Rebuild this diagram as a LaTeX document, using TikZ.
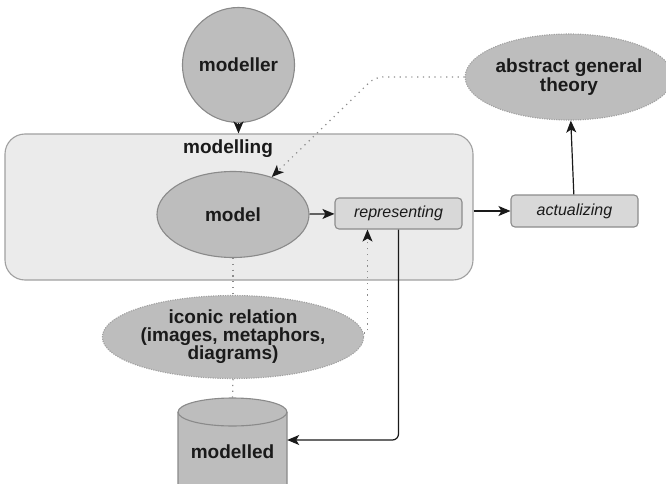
\documentclass[tikz,border=0pt]{standalone}
\usepackage{fontspec}
\setmainfont{Liberation Sans}
\usetikzlibrary{shapes.geometric,arrows.meta}
\definecolor{ellfill}{HTML}{BDBDBD}
\definecolor{ellline}{HTML}{8A8A8A}
\definecolor{boxfill}{HTML}{EBEBEB}
\definecolor{boxline}{HTML}{A0A0A0}
\definecolor{procfill}{HTML}{D8D8D8}
\definecolor{procline}{HTML}{8C8C8C}
\definecolor{ink}{HTML}{1A1A1A}
\definecolor{dotline}{HTML}{8C8C8C}
\tikzset{
  ell/.style={ellipse, fill=ellfill, draw=ellline, line width=1.1pt, inner sep=0pt,
    font=\bfseries\fontsize{19}{19}\selectfont, text=ink, align=center},
  dell/.style={ell, draw=ellline!80, dash pattern=on 1.2pt off 1.2pt},
  outer/.style={rectangle, rounded corners=20pt, fill=boxfill, draw=boxline, line width=1.1pt},
  proc/.style={rectangle, rounded corners=4pt, fill=procfill, draw=procline, line width=1.1pt,
    font=\itshape\fontsize{16}{16}\selectfont, text=ink, inner sep=0pt},
  cyl/.style={fill=ellfill, draw=ellline, line width=1.1pt},
  arr/.style={draw=ink, line width=1.2pt, -{Stealth[length=12pt,width=10pt,inset=3pt]}},
  dotarr/.style={draw=dotline, line width=1.2pt, dash pattern=on 1.2pt off 4.6pt,
    -{Stealth[length=12pt,width=10pt,inset=3pt,fill=ink,color=ink]}},
  dotlink/.style={draw=dotline, line width=1.2pt, dash pattern=on 1.2pt off 4.6pt},
  lbl/.style={font=\bfseries\fontsize{19}{19}\selectfont, text=ink}
}
\begin{document}
\begin{tikzpicture}[x=1pt,y=-1pt]
\useasboundingbox (0,0) rectangle (666,484);
\node[outer, minimum width=468pt, minimum height=146pt] (modelling) at (239,207) {};
\node[lbl] (modellinglbl) at (228,149) {modelling};
\node[ell, minimum width=107pt, minimum height=115pt] (modeller) at (238.5,65) {modeller};
\node[ell, minimum width=152pt, minimum height=86pt] (model) at (233,214.5) {model};
\node[proc, minimum width=127pt, minimum height=31pt] (representing) at (398.5,213.5) {representing};
\node[proc, minimum width=127pt, minimum height=32pt] (actualizing) at (574.5,211) {actualizing};
\node[dell, minimum width=192pt, minimum height=86pt] (abstract) at (569,77)
  {abstract general\\[0pt]theory};
\node[dell, minimum width=240pt, minimum height=83pt] (iconic) at (233,337)
  {iconic relation\\[-1pt](images, metaphors,\\[-1pt]diagrams)};
% modelled: cylinder drawn as a path on a named frame node
\node[rectangle, minimum width=109pt, minimum height=86pt, inner sep=0pt] (modelled) at (232.5,441) {};
\path[cyl] (178,412) -- (178,484) arc[start angle=180, end angle=0, x radius=54.5, y radius=14]
  -- (287,412) arc[start angle=360, end angle=180, x radius=54.5, y radius=14] -- cycle;
\draw[draw=ellline, line width=1.1pt] (178,412) arc[start angle=180, end angle=0, x radius=54.5, y radius=14];
\node[lbl] (modelledlbl) at (232.5,452) {modelled};
\coordinate (bend) at (375,77);
\draw[arr] (modeller) -- (modeller |- modelling.north);
\draw[arr] (model) -- (representing);
\draw[arr] (modelling.east |- actualizing) -- (actualizing);
\draw[arr] (actualizing) -- (abstract);
\draw[arr, rounded corners=6pt] (representing.south) |- ([yshift=1pt]modelled.east);
\draw[dotarr, rounded corners=8pt] (abstract.west) -- (bend) -- (model);
\coordinate (dotup) at ([xshift=-31pt]representing.south);
\draw[dotarr] ([yshift=4pt]iconic.east) -| (dotup);
\draw[dotlink] (model.south) -- (iconic.north);
\draw[dotlink] (iconic.south) -- (modelled.north);
\end{tikzpicture}
\end{document}
